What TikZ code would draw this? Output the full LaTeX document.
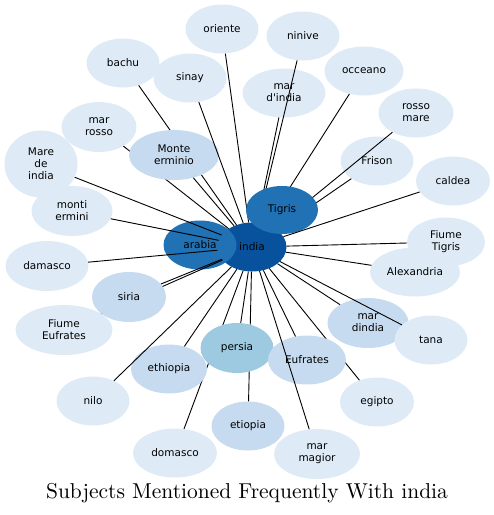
\documentclass[tikz,border=0pt]{standalone}
\usepackage{fontspec}
\newfontfamily\etiqueta{DejaVu Sans}
\newfontfamily\rotulo{lmroman10-regular.otf}
\usetikzlibrary{shapes.geometric}
\definecolor{azulA}{HTML}{DEEBF7}
\definecolor{azulB}{HTML}{C6DBEF}
\definecolor{azulC}{HTML}{9ECAE1}
\definecolor{azulD}{HTML}{2171B5}
\definecolor{azulE}{HTML}{08519C}
\tikzset{
    bola/.style={ellipse, fill=azulA, minimum width=73pt, minimum height=49pt, inner sep=0pt, align=center, font=\etiqueta\fontsize{10.5}{12}\selectfont},
    medio/.style={bola, fill=azulB},
    fuerte/.style={bola, fill=azulD},
    arista/.style={draw=black, line width=0.9pt},
}
\begin{document}
\begin{tikzpicture}[x=1pt, y=-1pt]
\useasboundingbox (0,0) rectangle (494,515);
% centre
\node[bola, fill=azulE, minimum width=69pt] (india) at (252,247) {india};
\node[fuerte] (arabia) at (200,245) {arabia};
% outer ring
\node[bola] (oriente) at (222,29) {oriente};
\node[bola] (ninive) at (303,36) {ninive};
\node[bola] (bachu) at (123,63) {bachu};
\node[bola] (sinay) at (190,78) {sinay};
\node[bola, minimum width=83pt] (marindia) at (284,93) {mar\\d'india};
\node[bola, minimum width=79pt] (occeano) at (364,71) {occeano};
\node[bola, minimum width=75pt] (rossomare) at (416,113) {rosso\\mare};
\node[bola, minimum width=75pt, minimum height=50pt] (marrosso) at (99,127) {mar\\rosso};
\node[bola, minimum height=67pt] (mareindia) at (41,164) {Mare\\de\\india};
\node[bola] (frison) at (377,161) {Frison};
\node[bola, minimum width=74pt] (caldea) at (453,181) {caldea};
\node[bola, minimum width=81pt, minimum height=50pt] (montierm) at (72,211) {monti\\ermini};
\node[bola, minimum width=78pt] (fiumetig) at (446,242) {Fiume\\Tigris};
\node[bola, minimum width=83pt, minimum height=50pt] (damasco) at (47,266) {damasco};
\node[bola, minimum width=90pt] (alexandria) at (415,272) {Alexandria};
\node[bola, minimum width=97pt, minimum height=50pt] (fiumeeuf) at (64,330) {Fiume\\Eufrates};
\node[bola, minimum width=81pt, minimum height=50pt, fill=azulB] (mardindia) at (368,323) {mar\\dindia};
\node[bola] (tana) at (431,340) {tana};
\node[bola] (nilo) at (93,401) {nilo};
\node[bola, minimum width=74pt] (egipto) at (377,402) {egipto};
\node[medio] (etiopia) at (248,426) {etiopia};
\node[bola, minimum width=84pt] (domasco) at (175,453) {domasco};
\node[bola, minimum width=86pt, minimum height=50pt] (marmagior) at (317,454) {mar\\magior};
% edges that run under the inner nodes
\foreach \n in {oriente, ninive, marindia, occeano, rossomare, frison, bachu, marrosso, fiumeeuf, domasco, etiopia, egipto} {
    \draw[arista] (india) -- (\n);
}
% inner ring
\node[fuerte, minimum width=72pt, minimum height=48pt] (tigris) at (282,210) {Tigris};
\node[medio, minimum width=90pt, minimum height=50pt] (monteerm) at (174,155) {Monte\\erminio};
\node[medio, minimum width=74pt, minimum height=50pt] (siria) at (129,297) {siria};
\node[medio, minimum width=76pt] (ethiopia) at (169,369) {ethiopia};
\node[bola, fill=azulC, minimum height=50pt] (persia) at (237,348) {persia};
\node[medio, minimum width=78pt] (eufrates) at (307,360) {Eufrates};
% remaining edges
\foreach \n in {sinay, mareindia, montierm, damasco, caldea, fiumetig, alexandria, mardindia, tana, nilo, marmagior, monteerm, siria, ethiopia, persia, eufrates} {
    \draw[arista] (india) -- (\n);
}
\node (titulo) at (247,493) {\rotulo\fontsize{21.5}{26}\selectfont Subjects Mentioned Frequently With india};
\end{tikzpicture}
\end{document}
